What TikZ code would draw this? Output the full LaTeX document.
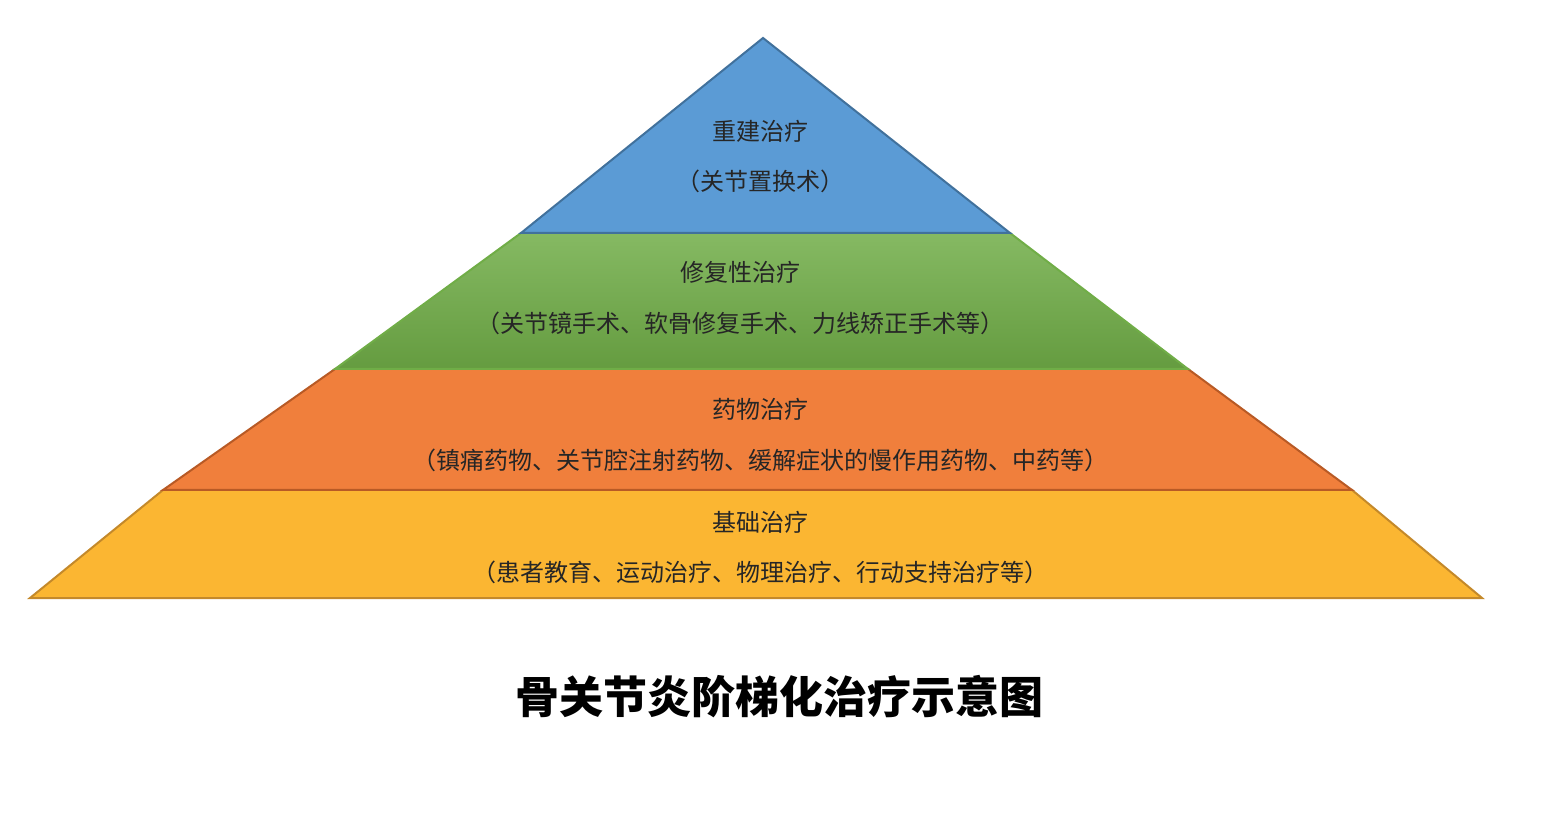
\documentclass[tikz,border=0pt]{standalone}
\usepackage{fontspec}
\setmainfont{Noto Sans CJK SC}
\begin{document}
\begin{tikzpicture}[x=0.5pt,y=-0.5pt,
  lay/.style={line width=1pt, line join=miter},
  lbl/.style={font=\fontsize{12}{14}\selectfont, text=black!85},
  ttl/.style={font=\fontsize{22}{26}\selectfont\bfseries}]
\useasboundingbox (0,0) rectangle (1556,838);
\definecolor{cb}{HTML}{5B9BD5}\definecolor{cbd}{HTML}{41719C}
\definecolor{cg}{HTML}{70AD47}\definecolor{cgd}{HTML}{507E32}
\definecolor{co}{HTML}{F07F3C}\definecolor{cod}{HTML}{B85A25}
\definecolor{cy}{HTML}{FBB632}\definecolor{cyd}{HTML}{C4892A}
\draw[lay,fill=cy,draw=cyd] (163,490) -- (1352,490) -- (1482,598) -- (30,598) -- cycle;
\draw[lay,fill=co,draw=cod] (335,369) -- (1188,369) -- (1352,490) -- (163,490) -- cycle;
\draw[lay,top color=cg!85!white,bottom color=cg!90!black,draw=cg] (521,233) -- (1010,233) -- (1188,369) -- (335,369) -- cycle;
\draw[lay,fill=cb,draw=cbd] (763,38) -- (1010,233) -- (521,233) -- cycle;
\node[lbl] (a1) at (760,131) {重建治疗};
\node[lbl] (a2) at (760,181) {（关节置换术）};
\node[lbl] (b1) at (740,272) {修复性治疗};
\node[lbl] (b2) at (740,323) {（关节镜手术、软骨修复手术、力线矫正手术等）};
\node[lbl] (c1) at (760,409) {药物治疗};
\node[lbl] (c2) at (760,460) {（镇痛药物、关节腔注射药物、缓解症状的慢作用药物、中药等）};
\node[lbl] (d1) at (760,522) {基础治疗};
\node[lbl] (d2) at (760,572) {（患者教育、运动治疗、物理治疗、行动支持治疗等）};
\node[ttl] (t) at (779,697) {骨关节炎阶梯化治疗示意图};
\end{tikzpicture}
\end{document}
